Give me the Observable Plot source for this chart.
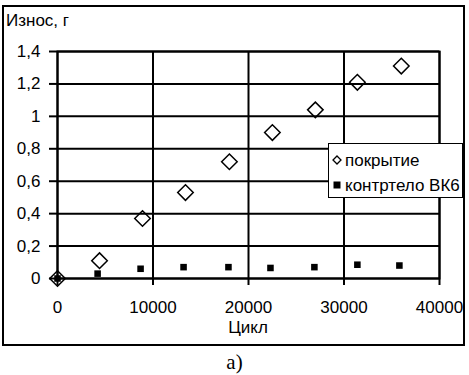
<!DOCTYPE html>
<html><head><meta charset="utf-8">
<script src="https://cdn.jsdelivr.net/npm/d3@7"></script>
<script src="https://cdn.jsdelivr.net/npm/@observablehq/plot@0.6"></script>
<style>
body{margin:0;background:#fff;}
#wrap{position:relative;width:469px;height:375px;font-family:"Liberation Sans",Arial,sans-serif;color:#000;overflow:hidden;}
#chart{position:absolute;left:0;top:0;}
#border{position:absolute;left:2px;top:5px;width:459px;height:337px;border:2px solid #000;pointer-events:none;}
#ytitle{position:absolute;left:6px;top:12px;font-size:17px;line-height:17px;}
#xtitle{position:absolute;left:0;width:496px;top:319px;text-align:center;font-size:17px;line-height:17px;}
#legend{position:absolute;left:328px;top:143px;width:133px;height:53px;border:1px solid #000;background:#fff;font-size:17px;line-height:17px;}
.li{position:absolute;left:0;height:20px;display:flex;align-items:center;white-space:nowrap;}
.li svg{margin-left:3px;margin-right:3px;}
#caption{position:absolute;left:0;width:469px;top:352px;text-align:center;font-family:"Liberation Serif","Times New Roman",serif;font-size:21px;line-height:21px;}
</style></head><body>
<div id="wrap">
  <div id="chart"></div>
  <div id="border"></div>
  <div id="ytitle"></div>
  <div id="xtitle"></div>
  <div id="legend"></div>
  <div id="caption"></div>
</div>
<script>
// ---- data ----
const seriesNames = ["покрытие", "контртело ВК6"];
const cyclesCoating = [0, 4400, 8900, 13400, 18000, 22500, 27000, 31400, 36000];
const wearCoating   = [0, 0.11, 0.37, 0.53, 0.72, 0.90, 1.04, 1.21, 1.31];
const cyclesCounter = [0, 4200, 8700, 13200, 17900, 22300, 26900, 31400, 35800];
const wearCounter   = [0, 0.03, 0.06, 0.07, 0.07, 0.065, 0.07, 0.085, 0.08];
const xTicks = [0, 10000, 20000, 30000, 40000];
const yTicks = [0, 0.2, 0.4, 0.6, 0.8, 1.0, 1.2, 1.4];
const yTitle = "Износ, г";
const xTitle = "Цикл";
const captionText = "а)";

const coating = cyclesCoating.map((c, i) => ({x: c, y: wearCoating[i]}));
const counter = cyclesCounter.map((c, i) => ({x: c, y: wearCounter[i]}));
const fmtX = d3.format("d");
const fmtY = d => String(+d.toFixed(1)).replace(".", ",");

const chart = Plot.plot({
  width: 469,
  height: 375,
  marginLeft: 57,
  marginRight: 30,
  marginTop: 51,
  marginBottom: 97,
  style: {fontFamily: "'Liberation Sans', Arial, sans-serif", background: "transparent", color: "#000"},
  x: {domain: [0, 40000], ticks: xTicks, tickFormat: fmtX, label: null},
  y: {domain: [0, 1.4], ticks: yTicks, tickFormat: fmtY, label: null},
  marks: [
    Plot.gridX(xTicks, {stroke: "#000", strokeOpacity: 1, strokeWidth: 2}),
    Plot.gridY(yTicks, {stroke: "#000", strokeOpacity: 1, strokeWidth: 2}),
    Plot.frame({stroke: "#000", strokeWidth: 2}),
    Plot.axisX(xTicks, {tickSize: 7, tickPadding: 15, fontSize: 17, strokeWidth: 2, tickFormat: fmtX, label: null}),
    Plot.axisY(yTicks, {tickSize: 8, tickPadding: 9, fontSize: 17, strokeWidth: 2, tickFormat: fmtY, label: null}),
    Plot.dot(counter, {x: "x", y: "y", symbol: "square", r: 3.7, fill: "#000", stroke: "none"}),
    Plot.dot(coating, {x: "x", y: "y", symbol: "diamond2", r: 7, fill: "none", stroke: "#000", strokeWidth: 1.5})
  ]
});
document.getElementById("chart").appendChild(chart);
document.getElementById("ytitle").textContent = yTitle;
document.getElementById("xtitle").textContent = xTitle;
document.getElementById("caption").textContent = captionText;

const legend = document.getElementById("legend");
const symbols = [
  '<svg width="10" height="10" viewBox="-5 -5 10 10"><path d="M0,-4L4,0L0,4L-4,0Z" fill="none" stroke="#000" stroke-width="1.3"/></svg>',
  '<svg width="10" height="10" viewBox="-5 -5 10 10"><rect x="-3.5" y="-3.5" width="7" height="7" fill="#000"/></svg>'
];
seriesNames.forEach((name, i) => {
  const item = document.createElement("div");
  item.className = "li";
  item.style.top = (6 + i * 25) + "px";
  item.innerHTML = symbols[i] + "<span></span>";
  item.querySelector("span").textContent = name;
  legend.appendChild(item);
});
</script>
</body></html>
